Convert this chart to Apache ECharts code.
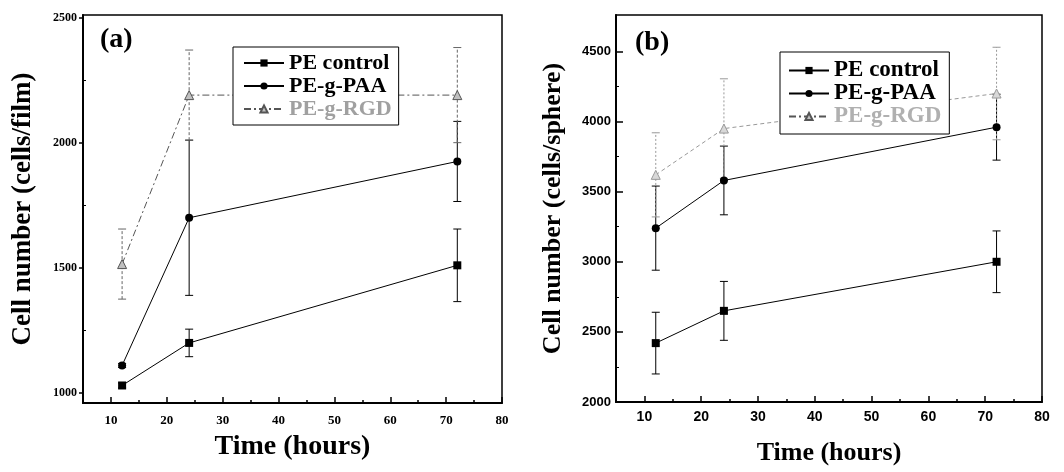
<!DOCTYPE html>
<html><head><meta charset="utf-8">
<script src="https://cdn.jsdelivr.net/npm/echarts@6/dist/echarts.min.js"></script>
<style>html,body{margin:0;padding:0;background:#fff}#c{width:1064px;height:472px}</style>
</head><body><div id="c"></div>
<script>
const hours = [12, 24, 72];
const seriesNames = ['PE control', 'PE-g-PAA', 'PE-g-RGD'];
// panel (a): cells/film
const filmControl = [1030, 1200, 1510];
const filmControlErr = [10, 55, 145];
const filmPAA = [1110, 1700, 1925];
const filmPAAErr = [8, 310, 160];
const filmRGD = [1515, 2190, 2190];
const filmRGDErr = [140, 180, 190];
// panel (b): cells/sphere
const sphereControl = [2420, 2650, 3000];
const sphereControlErr = [220, 210, 220];
const spherePAA = [3240, 3580, 3960];
const spherePAAErr = [300, 245, 235];
const sphereRGD = [3620, 3950, 4200];
const sphereRGDErr = [300, 355, 330];
// ticks
const xMajorTicks = [10, 20, 30, 40, 50, 60, 70, 80];
const xMinorTicks = [15, 25, 35, 45, 55, 65, 75];
const yTicksFilm = [1000, 1500, 2000, 2500];
const yMinorFilm = [1250, 1750, 2250];
const yTicksSphere = [2000, 2500, 3000, 3500, 4000, 4500];
const yMinorSphere = [2250, 2750, 3250, 3750, 4250];

const SERIF = '"Liberation Serif", "Times New Roman", serif';
const SANS = '"Liberation Sans", Arial, sans-serif';
const plain = v => String(v);

function pts(vals) { return hours.map((h, i) => [h, vals[i]]); }
function errSeries(vals, errs, xi, yi, color, dash) {
  return {
    type: 'custom', xAxisIndex: xi, yAxisIndex: yi, silent: true, z: 1,
    data: hours.map((h, i) => [h, vals[i] - errs[i], vals[i] + errs[i]]),
    encode: { x: 0, y: [1, 2] },
    renderItem: (params, api) => {
      const x = api.value(0);
      const lo = api.coord([x, api.value(1)]);
      const hi = api.coord([x, api.value(2)]);
      const w = 4;
      const st = { stroke: color, lineWidth: 1, lineDash: dash || null };
      const cap = { stroke: color, lineWidth: 1 };
      return { type: 'group', children: [
        { type: 'line', shape: { x1: lo[0], y1: lo[1], x2: hi[0], y2: hi[1] }, style: st },
        { type: 'line', shape: { x1: lo[0] - w, y1: lo[1], x2: lo[0] + w, y2: lo[1] }, style: cap },
        { type: 'line', shape: { x1: hi[0] - w, y1: hi[1], x2: hi[0] + w, y2: hi[1] }, style: cap }
      ] };
    }
  };
}
function lineSeries(name, vals, xi, yi, kind, rgdLine, rgdFill, rgdDash) {
  const s = { name, type: 'line', xAxisIndex: xi, yAxisIndex: yi, data: pts(vals), z: 3,
    symbolKeepAspect: true, animation: false };
  if (kind === 0) Object.assign(s, { symbol: 'rect', symbolSize: 8, itemStyle: { color: '#000' }, lineStyle: { color: '#000', width: 1 } });
  if (kind === 1) Object.assign(s, { symbol: 'circle', symbolSize: 8, itemStyle: { color: '#000' }, lineStyle: { color: '#000', width: 1 } });
  if (kind === 2) Object.assign(s, { symbol: 'triangle', symbolSize: 9,
    itemStyle: { color: rgdFill, borderColor: rgdLine, borderWidth: 1 },
    lineStyle: { color: rgdLine, width: 1, type: rgdDash } });
  return s;
}
function xAxes(gi, labelFont, labelMargin, nameSize, nameGap) {
  return [
    { gridIndex: gi, type: 'value', min: 5, max: 80, position: 'bottom',
      name: 'Time (hours)', nameLocation: 'middle', nameGap: nameGap,
      nameTextStyle: { fontFamily: SERIF, fontWeight: 'bold', fontSize: nameSize, color: '#000' },
      axisLine: { show: true, lineStyle: { color: '#000', width: 2 } },
      axisTick: { show: true, inside: true, length: 6, customValues: xMajorTicks, lineStyle: { color: '#000', width: 1.5 } },
      axisLabel: { customValues: xMajorTicks, formatter: plain, margin: labelMargin, color: '#000', fontWeight: 'bold', fontFamily: labelFont.f, fontSize: labelFont.s },
      splitLine: { show: false } },
    { gridIndex: gi, type: 'value', min: 5, max: 80, position: 'bottom', offset: 0,
      axisLine: { show: false },
      axisTick: { show: true, inside: true, length: 3, customValues: xMinorTicks, lineStyle: { color: '#000', width: 1.5 } },
      axisLabel: { show: false }, splitLine: { show: false } }
  ];
}
function yAxes(gi, min, max, major, minor, name, labelFont, labelMargin, nameSize, nameGap, tickInside) {
  return [
    { gridIndex: gi, type: 'value', min, max, position: 'left',
      name, nameLocation: 'middle', nameGap, nameRotate: 90,
      nameTextStyle: { fontFamily: SERIF, fontWeight: 'bold', fontSize: nameSize, color: '#000' },
      axisLine: { show: true, lineStyle: { color: '#000', width: 2 } },
      axisTick: { show: true, inside: tickInside, length: tickInside ? 7 : 4, customValues: major, lineStyle: { color: '#000', width: 1.5 } },
      axisLabel: { customValues: major, formatter: plain, margin: labelMargin, color: '#000', fontWeight: 'bold', fontFamily: labelFont.f, fontSize: labelFont.s },
      splitLine: { show: false } },
    { gridIndex: gi, type: 'value', min, max, position: 'left', offset: 0,
      axisLine: { show: false },
      axisTick: { show: true, inside: true, length: 3, customValues: minor, lineStyle: { color: '#000', width: 1 } },
      axisLabel: { show: false }, splitLine: { show: false } }
  ];
}

const chart = echarts.init(document.getElementById('c'), null, { renderer: 'canvas' });
const legendCommon = {
  orient: 'vertical', itemWidth: 40, itemHeight: 9, backgroundColor: '#fff',
  borderColor: '#000', borderWidth: 1, selectedMode: false
};
chart.setOption({
  animation: false,
  backgroundColor: '#fff',
  grid: [
    { left: 83, top: 15, width: 419, height: 388, show: true, borderColor: '#000', borderWidth: 1.5, outerBoundsMode: 'none' },
    { left: 616, top: 15, width: 426, height: 387, show: true, borderColor: '#000', borderWidth: 1.5, outerBoundsMode: 'none' }
  ],
  xAxis: [].concat(
    xAxes(0, { f: SERIF, s: 13 }, 11, 28, 30),
    xAxes(1, { f: SANS, s: 14 }, 8, 26, 38)
  ),
  yAxis: [].concat(
    yAxes(0, 960, 2510, yTicksFilm, yMinorFilm, 'Cell number (cells/film)', { f: SERIF, s: 12 }, 6, 27, 46, false),
    yAxes(1, 2000, 4760, yTicksSphere, yMinorSphere, 'Cell number (cells/sphere)', { f: SANS, s: 13 }, 5, 26, 50, true)
  ),
  legend: [
    Object.assign({}, legendCommon, { left: 233, top: 47, padding: [5, 7, 5, 10], itemGap: 1,
      textStyle: { fontFamily: SERIF, fontWeight: 'bold', fontSize: 22, lineHeight: 22, color: '#000' },
      data: [{ name: seriesNames[0] }, { name: seriesNames[1] }, { name: seriesNames[2], textStyle: { color: '#a0a0a0' } }] }),
    Object.assign({}, legendCommon, { left: 780, top: 52, padding: [7, 8, 6, 8], itemGap: 0,
      textStyle: { fontFamily: SERIF, fontWeight: 'bold', fontSize: 23, lineHeight: 21, color: '#000' },
      data: [{ name: seriesNames[0] }, { name: seriesNames[1] }, { name: seriesNames[2], textStyle: { color: '#b0b0b0' } }] })
  ],
  graphic: [
    { type: 'text', left: 100, top: 26, style: { text: '(a)', font: 'bold 28px ' + SERIF, fill: '#000' } },
    { type: 'text', left: 635, top: 29, style: { text: '(b)', font: 'bold 28px ' + SERIF, fill: '#000' } }
  ],
  series: [
    errSeries(filmControl, filmControlErr, 0, 0, '#000'),
    errSeries(filmPAA, filmPAAErr, 0, 0, '#000'),
    errSeries(filmRGD, filmRGDErr, 0, 0, '#666', [3, 2]),
    lineSeries(seriesNames[0], filmControl, 0, 0, 0),
    lineSeries(seriesNames[1], filmPAA, 0, 0, 1),
    lineSeries(seriesNames[2], filmRGD, 0, 0, 2, '#555', '#c0c0c0', [7, 3, 2, 3]),
    errSeries(sphereControl, sphereControlErr, 2, 2, '#000'),
    errSeries(spherePAA, spherePAAErr, 2, 2, '#000'),
    errSeries(sphereRGD, sphereRGDErr, 2, 2, '#999', [2, 2]),
    lineSeries(seriesNames[0], sphereControl, 2, 2, 0),
    lineSeries(seriesNames[1], spherePAA, 2, 2, 1),
    lineSeries(seriesNames[2], sphereRGD, 2, 2, 2, '#999', '#d8d8d8', [4, 3])
  ]
});
</script></body></html>
